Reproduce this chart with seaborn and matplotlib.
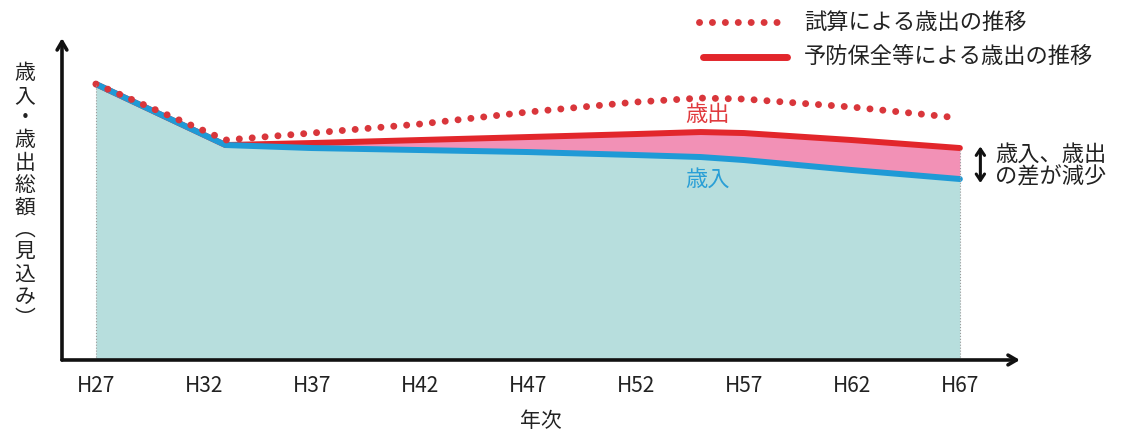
import numpy as np
import pandas as pd
import seaborn as sns
import matplotlib.pyplot as plt

# Data (arbitrary units, baseline = 0)
years = [27, 33, 37, 42, 47, 52, 55, 57, 62, 67]
revenue = [276, 215, 212, 210, 208, 205, 203, 200, 190, 181]      # 歳入
spending = [276, 215, 217, 220, 223, 226, 228, 227, 220, 212]     # 予防保全等による歳出
trial = [276, 220, 227, 236, 248, 258, 262, 261, 253, 242]        # 試算による歳出
tick_years = [27, 32, 37, 42, 47, 52, 57, 62, 67]
tick_labels = ["H27", "H32", "H37", "H42", "H47", "H52", "H57", "H62", "H67"]

df = pd.DataFrame({"year": years, "revenue": revenue,
                   "spending": spending, "trial": trial})

sns.set_style("white")
plt.rcParams['font.family'] = ['Noto Sans CJK JP', 'DejaVu Sans']

fig = plt.figure(figsize=(11.23, 4.41), dpi=100)
ax = fig.add_axes([0.0552, 0.1837, 0.853, 0.730])

teal = "#b7dedd"
pink = "#f291b6"
blue = "#1f9ad6"
red = "#e2262b"
dot_red = "#d9363b"
dots = (0, (0.01, 1.85))

# Fills
ax.fill_between(df["year"], 0, df["revenue"], color=teal, lw=0)
ax.fill_between(df["year"], df["revenue"], df["spending"], color=pink, lw=0)

# Lines
sns.lineplot(data=df, x="year", y="spending", color=red, lw=4.3, ax=ax)
sns.lineplot(data=df, x="year", y="revenue", color=blue, lw=4.3, ax=ax)
sns.lineplot(data=df, x="year", y="trial", color=dot_red, lw=5,
             linestyle=dots, dash_capstyle="round", ax=ax)

# faint dotted edges of the fill
ax.vlines([years[0], years[-1]], 0, [trial[0], spending[-1]],
          colors="#9a9a9a", linestyles=":", lw=0.8)

ax.set_xlim(25.43, 69.78)
ax.set_ylim(0, 322)
ax.set_xticks(tick_years)
ax.set_xticklabels(tick_labels, fontsize=15, color="#222222")
ax.set_yticks([])
ax.tick_params(axis="x", length=0, pad=11)
ax.set_xlabel("年次", fontsize=15, color="#222222", labelpad=9)
ax.set_ylabel("")
for s in ax.spines.values():
    s.set_visible(False)

# axis arrows
ax.annotate("", xy=(1.0, 0), xytext=(0, 0), xycoords="axes fraction",
            arrowprops=dict(arrowstyle="->,head_length=0.6,head_width=0.35",
                            lw=2.6, color="#111111", shrinkA=0, shrinkB=0))
ax.annotate("", xy=(0, 1.0), xytext=(0, 0), xycoords="axes fraction",
            arrowprops=dict(arrowstyle="->,head_length=0.6,head_width=0.35",
                            lw=2.6, color="#111111", shrinkA=0, shrinkB=0))

# vertical y label (stacked characters)
ylab = "\n".join(list("歳入・歳出総額")) + "\n︵\n見\n込\nみ\n︶"
fig.text(0.022, 0.555, ylab, fontsize=15, color="#222222", ha="center",
         va="center", linespacing=1.02)

# in-chart labels
ax.text(55.3, 246, "歳出", color="#e03a3e", fontsize=16, ha="center", va="center")
ax.text(55.3, 181, "歳入", color="#2a9fd6", fontsize=16, ha="center", va="center")

# gap annotation: double arrow + text
ax.annotate("", xy=(0.873, 0.585), xytext=(0.873, 0.668), xycoords="figure fraction",
            arrowprops=dict(arrowstyle="<->,head_length=0.45,head_width=0.3",
                            lw=2.2, color="#111111", shrinkA=0, shrinkB=0))
fig.text(0.886, 0.625, "歳入、歳出\nの差が減少", fontsize=16, color="#222222",
         ha="left", va="center", linespacing=1.0)

# legend (drawn manually, top right)
fig.lines.append(plt.Line2D([0.622, 0.702], [0.950, 0.950], transform=fig.transFigure,
                            color=dot_red, lw=5, linestyle=dots,
                            dash_capstyle="round"))
fig.lines.append(plt.Line2D([0.626, 0.701], [0.870, 0.870], transform=fig.transFigure,
                            color=red, lw=5, solid_capstyle="round"))
fig.text(0.716, 0.950, "試算による歳出の推移", fontsize=16, color="#222222",
         ha="left", va="center")
fig.text(0.716, 0.870, "予防保全等による歳出の推移", fontsize=16, color="#222222",
         ha="left", va="center")

fig.savefig("out.png", dpi=100, facecolor="white")
